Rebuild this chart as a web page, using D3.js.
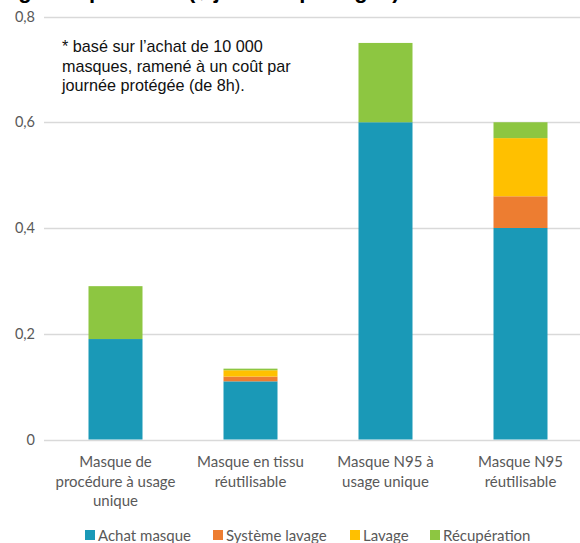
<!DOCTYPE html>
<html>
<head>
<meta charset="utf-8">
<script src="https://cdn.jsdelivr.net/npm/d3@7"></script>
<style>
  html, body { margin: 0; padding: 0; background: #fff; }
  svg { display: block; }
</style>
</head>
<body>
<svg id="chart" width="580" height="543"></svg>
<script>
// Categories (one per line of the axis label)
const categories = [
  ["Masque de", "procédure à usage", "unique"],
  ["Masque en tissu", "réutilisable"],
  ["Masque N95 à", "usage unique"],
  ["Masque N95", "réutilisable"]
];
const seriesNames = ["Achat masque", "Système lavage", "Lavage", "Récupération"];
const seriesColors = ["#1a99b7", "#ed7d31", "#ffc000", "#8dc641"];

// Cost per protected day, by component
const achatMasque   = [0.19, 0.11, 0.60, 0.40];
const systemeLavage = [0.00, 0.009, 0.00, 0.06];
const lavage        = [0.00, 0.012, 0.00, 0.11];
const recuperation  = [0.10, 0.003, 0.15, 0.03];

const yTicks = [0, 0.2, 0.4, 0.6, 0.8];
const yTickLabels = ["0", "0,2", "0,4", "0,6", "0,8"];

const footnote = [
  "* basé sur l’achat de 10 000",
  "masques, ramené à un coût par",
  "journée protégée (de 8h)."
];
const titleText = "Coût global par unité (\u0024/journée protégée)";

const rows = categories.map((c, i) => ({
  key: i,
  "Achat masque": achatMasque[i],
  "Système lavage": systemeLavage[i],
  "Lavage": lavage[i],
  "Récupération": recuperation[i]
}));

const svg = d3.select("#chart");

const x = d3.scaleBand()
  .domain(categories.map((c, i) => i))
  .range([48, 588])
  .paddingInner(0.6)
  .paddingOuter(0.3);

const y = d3.scaleLinear().domain([0, 0.8]).range([439.5, 16.5]);

// Title (runs off the top of the frame)
svg.append("text")
  .attr("x", -38).attr("y", -2)
  .attr("font-family", "Liberation Sans, Arial, sans-serif")
  .attr("font-weight", "bold")
  .attr("font-size", 22)
  .attr("fill", "#000")
  .text(titleText);

// Horizontal gridlines
svg.append("g")
  .selectAll("line")
  .data(yTicks)
  .join("line")
  .attr("x1", 44).attr("x2", 580)
  .attr("y1", d => Math.round(y(d)) + 0.5)
  .attr("y2", d => Math.round(y(d)) + 0.5)
  .attr("stroke", "#d9d9d9")
  .attr("stroke-width", 1.3);

// Y axis labels
const yAxis = d3.axisLeft(y).tickValues(yTicks)
  .tickFormat((d, i) => yTickLabels[i]).tickSize(0).tickPadding(0);
const yg = svg.append("g").attr("transform", "translate(35,0)").call(yAxis);
yg.select(".domain").remove();
yg.selectAll("text")
  .attr("font-family", "Lato, 'Open Sans', sans-serif")
  .attr("font-size", 14.5)
  .attr("fill", "#595959");

// Stacked bars
const stack = d3.stack().keys(seriesNames);
const stacked = stack(rows);
svg.append("g")
  .selectAll("g")
  .data(stacked)
  .join("g")
  .attr("fill", (d, i) => seriesColors[i])
  .selectAll("rect")
  .data(d => d)
  .join("rect")
  .attr("x", d => x(d.data.key))
  .attr("width", x.bandwidth())
  .attr("y", d => y(d[1]))
  .attr("height", d => Math.max(0, y(d[0]) - y(d[1])));

// Category labels
const xg = svg.append("g");
categories.forEach((lines, i) => {
  const t = xg.append("text")
    .attr("text-anchor", "middle")
    .attr("font-family", "Lato, 'Open Sans', sans-serif")
    .attr("font-size", 15)
    .attr("fill", "#595959");
  lines.forEach((ln, j) => {
    t.append("tspan")
      .attr("x", x(i) + x.bandwidth() / 2)
      .attr("y", 467 + j * 19.5)
      .text(ln);
  });
});

// Footnote
const fn = svg.append("text")
  .attr("font-family", "Liberation Sans, Arial, sans-serif")
  .attr("font-size", 16.2)
  .attr("fill", "#111");
footnote.forEach((ln, j) => {
  fn.append("tspan").attr("x", 62).attr("y", 52 + j * 19.5).text(ln);
});

// Legend
const legendX = [85, 213, 350, 430];
const lg = svg.append("g");
seriesNames.forEach((name, i) => {
  lg.append("rect")
    .attr("x", legendX[i]).attr("y", 530)
    .attr("width", 10).attr("height", 10)
    .attr("fill", seriesColors[i]);
  lg.append("text")
    .attr("x", legendX[i] + 13).attr("y", 541)
    .attr("font-family", "Lato, 'Open Sans', sans-serif")
    .attr("font-size", 15)
    .attr("fill", "#595959")
    .text(name);
});
</script>
</body>
</html>
